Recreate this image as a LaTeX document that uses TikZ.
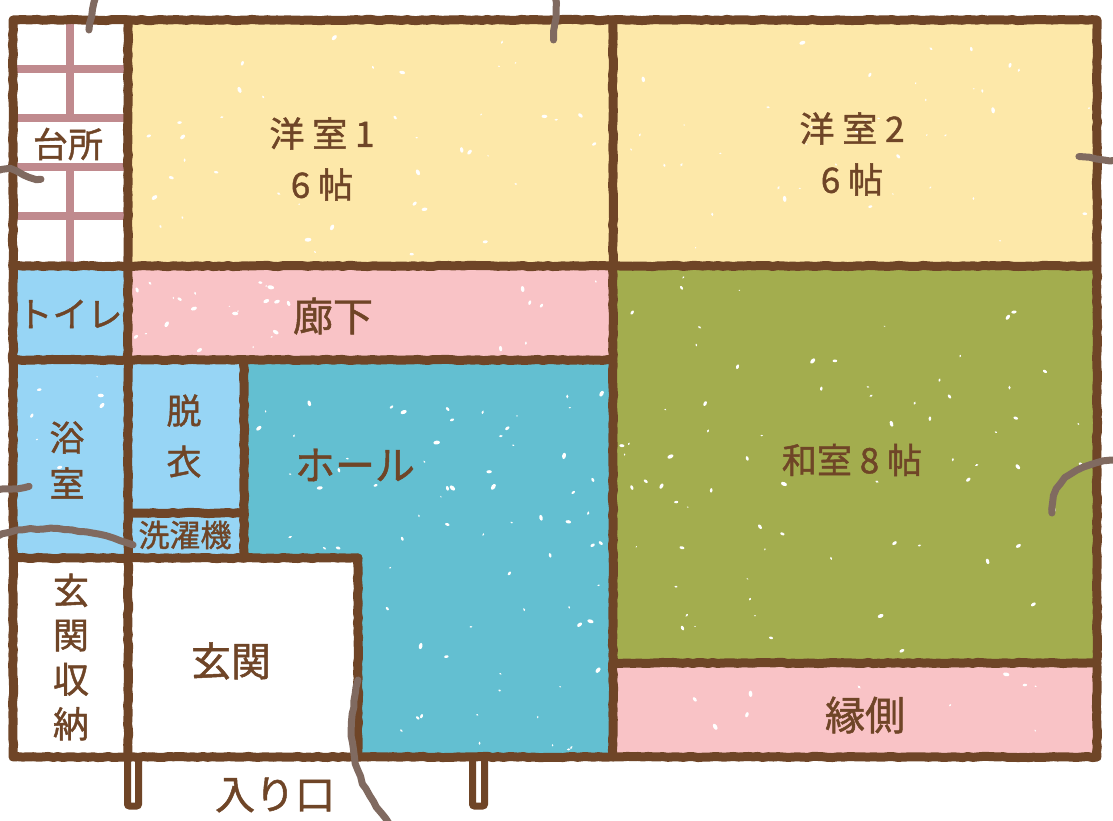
\documentclass[tikz,border=0pt]{standalone}
\usepackage{fontspec}
\setmainfont{Noto Sans CJK JP}[FakeBold=1.2]
\usetikzlibrary{decorations.pathmorphing}
\definecolor{wallbrown}{HTML}{6F4527}
\definecolor{crackgray}{HTML}{806A60}
\definecolor{tilerose}{HTML}{C08A8E}
\definecolor{roomyellow}{HTML}{FDE8A9}
\definecolor{roompink}{HTML}{F9C3C6}
\definecolor{roomolive}{HTML}{A3AD4E}
\definecolor{roomteal}{HTML}{63BFD1}
\definecolor{roomblue}{HTML}{97D5F5}
\tikzset{
  wall/.style = {draw=wallbrown, line width=9pt, line cap=round, line join=round,
    decorate, decoration={random steps, segment length=5pt, amplitude=.6pt}},
  tile/.style = {draw=tilerose, line width=8pt},
  crack/.style = {draw=crackgray, line width=7pt, line cap=round, line join=round,
    decorate, decoration={random steps, segment length=7pt, amplitude=.7pt}},
  post/.style = {draw=wallbrown, line width=7pt, fill=white, rounded corners=2pt},
  label/.style = {align=center, inner sep=0pt, text=wallbrown, font=\fontsize{35}{51}\selectfont},
  biglabel/.style = {label, font=\fontsize{40}{51}\selectfont},
  smalllabel/.style = {label, font=\fontsize{31}{34}\selectfont}
}
\newcommand{\speckles}[5]{
  \foreach \i in {1,...,#5}{
    \pgfmathsetmacro{\spx}{#1+rnd*(#3-#1)}
    \pgfmathsetmacro{\spy}{#2+rnd*(#4-#2)}
    \pgfmathsetmacro{\spr}{.5+rnd*1.5}
    \pgfmathsetmacro{\spa}{rnd*180}
    \fill[white, rotate around={\spa:(\spx,\spy)}] (\spx,\spy) ellipse ({\spr*1.7 pt} and {\spr pt});
  }
}
\begin{document}
\begin{tikzpicture}[x=1pt,y=-1pt]
	\useasboundingbox (0,0) rectangle (1113,821);
	\pgfmathsetseed{54}
	% rooms
	\fill[white] (0,0) rectangle (1113,821);
	\fill[roomyellow] (128,20) rectangle (613,266);
	\fill[roomyellow] (613,20) rectangle (1097,266);
	\fill[roompink] (128,266) rectangle (613,360);
	\fill[roomblue] (13,266) rectangle (128,360);
	\fill[roomblue] (13,360) rectangle (128,558);
	\fill[roomblue] (128,360) rectangle (244,558);
	\fill[roomteal] (244,360) -- (613,360) -- (613,757) -- (358,757) -- (358,558) -- (244,558) -- cycle;
	\fill[roomolive] (613,266) rectangle (1097,663);
	\fill[roompink] (613,663) rectangle (1097,757);
	% white flecks
	\speckles{135}{28}{605}{258}{40}
	\speckles{621}{28}{1090}{258}{40}
	\speckles{135}{274}{290}{352}{22}
	\speckles{400}{274}{605}{352}{6}
	\speckles{621}{274}{1090}{655}{70}
	\speckles{252}{368}{605}{550}{45}
	\speckles{366}{550}{605}{750}{25}
	\speckles{621}{671}{1090}{750}{10}
	\speckles{20}{368}{122}{550}{8}
	% kitchen tiles
	\draw[tile] (70,24) -- (70,118);
	\draw[tile] (70,167) -- (70,262);
	\foreach \tiley in {69,118,167,216}
		\draw[tile] (17,\tiley) -- (124,\tiley);
	% door posts
	\draw[post] (127.5,757) -- (127.5,806) -- (138.5,806) -- (138.5,757);
	\draw[post] (472.5,757) -- (472.5,806) -- (484.5,806) -- (484.5,757);
	% walls
	\draw[wall] (13,20) rectangle (1097,757);
	\draw[wall] (128,20) -- (128,757);
	\draw[wall] (613,20) -- (613,757);
	\draw[wall] (13,266) -- (1097,266);
	\draw[wall] (13,360) -- (613,360);
	\draw[wall] (13,558) -- (358,558);
	\draw[wall] (358,558) -- (358,757);
	\draw[wall] (244,360) -- (244,558);
	\draw[wall] (128,513) -- (244,513);
	\draw[wall] (613,663) -- (1097,663);
	% cracks
	\draw[crack] (96,-4) .. controls (93,8) and (91,18) .. (89,30);
	\draw[crack] (555,-4) .. controls (558,10) and (553,25) .. (554,40);
	\draw[crack] (1117,160) .. controls (1105,162) and (1090,155) .. (1079,158);
	\draw[crack] (-4,171) .. controls (12,165) and (22,178) .. (41,179);
	\draw[crack] (1117,460) .. controls (1085,462) and (1050,475) .. (1052,513);
	\draw[crack] (-4,490) .. controls (8,488) and (18,490) .. (29,486);
	\draw[crack] (-4,537) .. controls (20,525) and (85,525) .. (133,545);
	\draw[crack] (358,680) .. controls (352,710) and (348,740) .. (358,770) .. controls (364,790) and (375,805) .. (390,825);
	% labels
	\node[label] (yoshitsu1) at (322,159) {洋 室 1\\6 帖};
	\node[label] (yoshitsu2) at (852,154) {洋 室 2\\6 帖};
	\node[label] (daidokoro) at (68,144) {台所};
	\node[label] (toire) at (70,314) {トイレ};
	\node[biglabel] (roka) at (333,316) {廊下};
	\node[label, font=\fontsize{35}{46}\selectfont] (yokushitsu) at (67,460) {浴\\室};
	\node[label] (datsui) at (184,436) {脱\\衣};
	\node[smalllabel] (sentakuki) at (185,535) {洗濯機};
	\node[biglabel] (horu) at (355,465) {ホール};
	\node[label] (washitsu) at (852,460) {和室 8 帖};
	\node[biglabel] (enngawa) at (865,715) {縁側};
	\node[biglabel] (genkan) at (231,661) {玄関};
	\node[label, font=\fontsize{36}{44.5}\selectfont] (shuno) at (71,657) {玄\\関\\収\\納};
	\node[biglabel] (iriguchi) at (275,795) {入り口};
\end{tikzpicture}
\end{document}
